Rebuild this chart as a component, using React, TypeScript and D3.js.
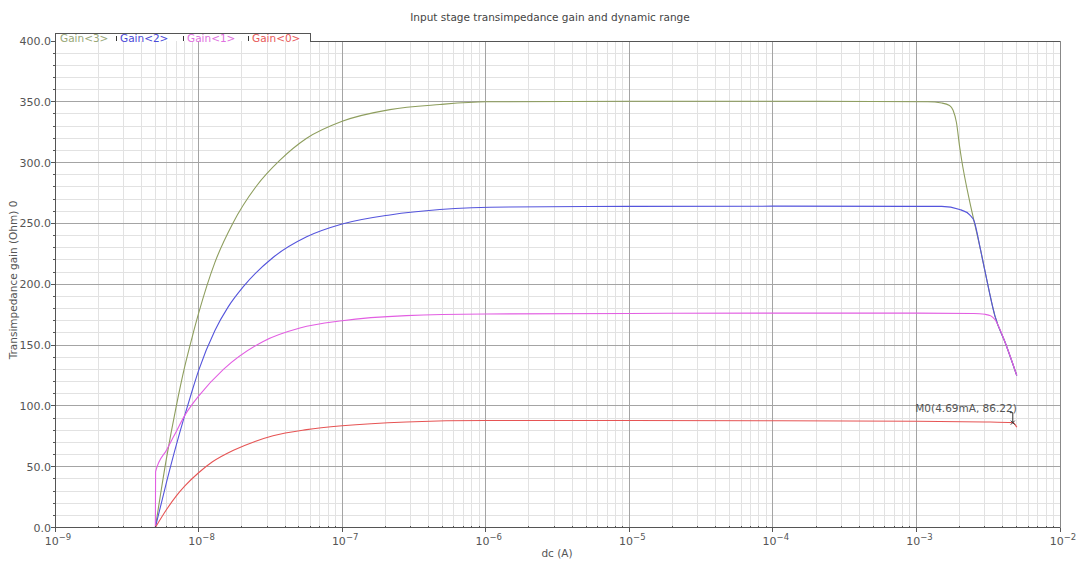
import React from "react";
import * as d3 from "d3";

// Sweep of the DC input current (A) and transimpedance gain (Ohm) for each gain setting
const gain3Current = [5e-9, 6e-9, 7e-9, 8e-9, 9e-9, 1e-8, 1.3e-8, 1.73e-8, 2.54e-8, 3.69e-8, 5.66e-8, 1e-7, 2.15e-7, 4.8e-7, 1e-6, 1e-5, 1e-4, 1.2e-3, 1.5e-3, 1.7e-3, 1.8e-3, 1.9e-3, 2e-3, 2.06e-3, 2.35e-3, 2.52e-3, 2.8e-3, 3e-3, 3.52e-3, 4.2e-3, 5e-3];
const gain3Ohm = [0, 58, 100, 132, 156, 176, 218, 250, 281, 302, 320, 334, 343.6, 347.8, 350, 350.5, 350.5, 350, 349, 347, 343, 333, 313, 303, 268, 252, 228, 211, 174, 150.5, 125];

const gain2Current = [5e-9, 6e-9, 7e-9, 8e-9, 9e-9, 1e-8, 1.3e-8, 1.6e-8, 2.05e-8, 3.3e-8, 5.66e-8, 1e-7, 2.15e-7, 4.8e-7, 1.45e-6, 1e-5, 1e-4, 1.5e-3, 2e-3, 2.35e-3, 2.52e-3, 2.8e-3, 3e-3, 3.52e-3, 4.2e-3, 5e-3];
const gain2Ohm = [0, 38, 68, 92, 112, 129, 162, 181, 198, 222, 239, 249.5, 257, 261.4, 263.5, 264, 264.2, 264, 261.5, 257, 252, 228, 211, 174, 150.5, 125];

const gain1Current = [5e-9, 5.02e-9, 6e-9, 7e-9, 8e-9, 9e-9, 1e-8, 1.49e-8, 2.82e-8, 5.08e-8, 1e-7, 2.8e-7, 1e-6, 1e-5, 1e-4, 1e-3, 2.5e-3, 3e-3, 3.3e-3, 3.52e-3, 4.2e-3, 5e-3];
const gain1Ohm = [0, 46, 64, 79, 92, 101, 108, 130, 153, 164, 170, 174.2, 175.6, 176, 176.3, 176.3, 176, 175.3, 174, 171, 150.5, 125];

const gain0Current = [5e-9, 6e-9, 7e-9, 8e-9, 1e-8, 1.25e-8, 1.75e-8, 2.5e-8, 3.3e-8, 5.66e-8, 1e-7, 2.8e-7, 1e-6, 1e-5, 1e-4, 1e-3, 3e-3, 4.69e-3, 5e-3];
const gain0Ohm = [0, 15, 26, 34, 45, 54, 63.5, 71, 75.5, 80.5, 83.7, 86.8, 88, 88, 87.8, 87.3, 86.8, 86.22, 82.5];

const seriesNames = ["Gain<3>", "Gain<2>", "Gain<1>", "Gain<0>"];
const seriesColors = ["#8e9e5e", "#5454dc", "#e25ee2", "#e65454"];
const legendColors = ["#98a878", "#4a4ad8", "#e070e0", "#e85a5a"];

const yTicks = [0, 50, 100, 150, 200, 250, 300, 350, 400];
const xDecades = [-9, -8, -7, -6, -5, -4, -3, -2];

const markerCurrent = 4.69e-3;
const markerOhm = 86.22;
const markerLabel = "M0(4.69mA, 86.22)";

const titleText = "Input stage transimpedance gain and dynamic range";
const xLabel = "dc (A)";
const yLabel = "Transimpedance gain (Ohm) 0";

const W = 1076;
const H = 563;
const left = 55;
const right = 1060;
const top = 41;
const bottom = 527.5;
const font = "'DejaVu Sans', Verdana, sans-serif";

export default function App() {
  const x = d3.scaleLog().domain([1e-9, 1e-2]).range([left, right]);
  const y = d3.scaleLinear().domain([0, 400]).range([bottom, top]);

  const line = d3
    .line<[number, number]>()
    .x((d) => x(d[0]))
    .y((d) => y(d[1]))
    .curve(d3.curveMonotoneX);

  const series = [
    d3.zip(gain3Current, gain3Ohm) as [number, number][],
    d3.zip(gain2Current, gain2Ohm) as [number, number][],
    d3.zip(gain1Current, gain1Ohm) as [number, number][],
    d3.zip(gain0Current, gain0Ohm) as [number, number][],
  ];

  // minor vertical grid at 2..9 x each decade
  const minorX: number[] = [];
  for (const e of xDecades.slice(0, -1)) {
    for (let m = 2; m <= 9; m++) minorX.push(m * Math.pow(10, e));
  }
  const minorY = d3.range(0, 401, 10).filter((v) => v % 50 !== 0);

  const mx = x(markerCurrent);
  const my = y(markerOhm);

  // legend tab layout
  const legendX = [60, 120, 187, 252];
  const tabRight = 310;
  const tabTop = 33;

  return (
    <svg
      width={W}
      height={H}
      style={{ position: "absolute", left: 0, top: 0, background: "#fff" }}
      fontFamily={font}
    >
      <rect x={0} y={0} width={W} height={H} fill="#fff" />
      <text x={550} y={21} textAnchor="middle" fontSize={10.5} fill="#444">
        {titleText}
      </text>

      {/* grid */}
      <g shapeRendering="crispEdges">
        {minorX.map((v, i) => (
          <line key={"mx" + i} x1={x(v)} x2={x(v)} y1={top} y2={bottom} stroke="#e2e2e2" />
        ))}
        {minorY.map((v, i) => (
          <line key={"my" + i} x1={left} x2={right} y1={y(v)} y2={y(v)} stroke="#e2e2e2" />
        ))}
        {xDecades.slice(1, -1).map((e) => (
          <line key={"gx" + e} x1={x(Math.pow(10, e))} x2={x(Math.pow(10, e))} y1={top} y2={bottom} stroke="#a4a4a4" />
        ))}
        {yTicks.slice(1, -1).map((v) => (
          <line key={"gy" + v} x1={left} x2={right} y1={y(v)} y2={y(v)} stroke="#a4a4a4" />
        ))}
      </g>

      {/* curves */}
      {series.map((s, i) => (
        <path key={seriesNames[i]} d={line(s) ?? ""} fill="none" stroke={seriesColors[i]} strokeWidth={1.1} />
      ))}

      {/* frame and legend tab */}
      <g shapeRendering="crispEdges" stroke="#555" fill="none">
        <line x1={left} x2={left} y1={tabTop} y2={bottom} />
        <line x1={left} x2={right} y1={bottom} y2={bottom} />
        <line x1={right} x2={right} y1={top} y2={bottom} stroke="#888" />
        <line x1={tabRight} x2={right} y1={top} y2={top} />
        <line x1={left} x2={tabRight} y1={tabTop} y2={tabTop} />
        <line x1={tabRight} x2={tabRight} y1={tabTop} y2={top} />
      </g>
      {seriesNames.map((n, i) => (
        <g key={"lg" + n}>
          <text x={legendX[i]} y={tabTop + 9} fontSize={10.5} fill={legendColors[i]}>
            {n}
          </text>
          {i > 0 && (
            <line x1={legendX[i] - 3.5} x2={legendX[i] - 3.5} y1={tabTop + 3} y2={top} stroke="#333" shapeRendering="crispEdges" />
          )}
        </g>
      ))}

      {/* axis ticks and labels */}
      <g shapeRendering="crispEdges" stroke="#555">
        {minorY.map((v, i) => (
          <line key={"ty" + i} x1={left - 2} x2={left} y1={y(v)} y2={y(v)} />
        ))}
        {yTicks.map((v) => (
          <line key={"tY" + v} x1={left - 4} x2={left} y1={y(v)} y2={y(v)} />
        ))}
        {minorX.map((v, i) => (
          <line key={"tx" + i} x1={x(v)} x2={x(v)} y1={bottom - 2} y2={bottom} />
        ))}
        {xDecades.map((e) => (
          <line key={"tX" + e} x1={x(Math.pow(10, e))} x2={x(Math.pow(10, e))} y1={bottom} y2={bottom + 4} />
        ))}
      </g>
      {yTicks.map((v) => (
        <text key={"ly" + v} x={left - 4} y={y(v) + 4} textAnchor="end" fontSize={11} fill="#555">
          {v.toFixed(1)}
        </text>
      ))}
      {xDecades.map((e) => (
        <text key={"lx" + e} x={x(Math.pow(10, e)) + 3} y={bottom + 17} textAnchor="middle" fontSize={11} fill="#555">
          10
          <tspan fontSize={8.5} dy={-5}>
            {"\u2212" + Math.abs(e)}
          </tspan>
        </text>
      ))}

      <text x={557} y={557} textAnchor="middle" fontSize={10.5} fill="#555">
        {xLabel}
      </text>
      <text
        transform={`translate(17, 280) rotate(-90)`}
        textAnchor="middle"
        fontSize={10.5}
        fill="#555"
      >
        {yLabel}
      </text>

      {/* marker M0 */}
      <g stroke="#333" strokeWidth={1}>
        <line x1={mx} x2={mx} y1={my - 10} y2={my} />
        <line x1={mx - 3} x2={mx} y1={my - 10} y2={my - 10} />
        <line x1={mx - 2} x2={mx + 2} y1={my - 2} y2={my + 2} />
        <line x1={mx - 2} x2={mx + 2} y1={my + 2} y2={my - 2} />
      </g>
      <text x={mx + 4} y={my - 11} textAnchor="end" fontSize={10.5} fill="#555">
        {markerLabel}
      </text>
    </svg>
  );
}
